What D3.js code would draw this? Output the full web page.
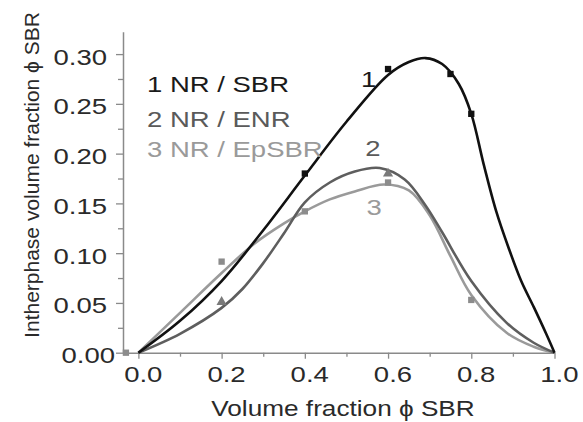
<!DOCTYPE html>
<html>
<head>
<meta charset="utf-8">
<script src="https://cdn.jsdelivr.net/npm/d3@7"></script>
<style>
  html, body { margin: 0; padding: 0; background: #fff; }
  svg { display: block; font-family: "Liberation Sans", Arial, sans-serif; }
</style>
</head>
<body>
<svg id="chart" width="583" height="422"></svg>
<script>
// ---- Data ----
// Fitted curves
const fitX1 = [0, 0.1, 0.2, 0.3, 0.4, 0.5, 0.6, 0.65, 0.69, 0.73, 0.77, 0.8, 0.83, 0.86, 0.89, 0.92, 0.95, 0.98, 1.0];
const fitY1 = [0, 0.032, 0.072, 0.123, 0.178, 0.232, 0.279, 0.292, 0.296, 0.29, 0.27, 0.24, 0.189, 0.142, 0.105, 0.072, 0.046, 0.019, 0];
const fitX2 = [0, 0.1, 0.2, 0.25, 0.3, 0.35, 0.4, 0.46, 0.52, 0.58, 0.64, 0.69, 0.73, 0.8, 0.885, 0.95, 1.0];
const fitY2 = [0, 0.019, 0.045, 0.064, 0.09, 0.12, 0.151, 0.171, 0.182, 0.1855, 0.174, 0.148, 0.121, 0.072, 0.03, 0.01, 0];
const fitX3 = [0, 0.1, 0.2, 0.28, 0.35, 0.4, 0.46, 0.52, 0.59, 0.65, 0.7, 0.75, 0.8, 0.885, 0.95, 1.0];
const fitY3 = [0, 0.04, 0.08, 0.11, 0.13, 0.142, 0.154, 0.162, 0.169, 0.163, 0.138, 0.097, 0.058, 0.02, 0.006, 0];

// Measured points
const ptsX1 = [0.4, 0.6, 0.75, 0.8];
const ptsY1 = [0.18, 0.285, 0.28, 0.24];
const ptsX2 = [0.2, 0.6];
const ptsY2 = [0.051, 0.18];
const ptsX3 = [-0.03, 0.2, 0.4, 0.6, 0.8];
const ptsY3 = [0, 0.0915, 0.142, 0.171, 0.053];

const legendLabels = ["1 NR / SBR", "2 NR / ENR", "3 NR / EpSBR"];
const curveLabels = ["1", "2", "3"];
const xTicks = [0, 0.2, 0.4, 0.6, 0.8, 1.0];
const xMinorTicks = [0.1, 0.3, 0.5, 0.7, 0.9];
const yTicks = [0, 0.05, 0.10, 0.15, 0.20, 0.25, 0.30];
const yMinorTicks = [0.025, 0.075, 0.125, 0.175, 0.225, 0.275];
const xTitle = "Volume fraction \u03d5 SBR";
const yTitle = "Intherphase volume fraction \u03d5 SBR";

// ---- Drawing ----
const svg = d3.select("#chart");
const colors = ["#111111", "#5e5e5e", "#9a9a9a"];
const axisColor = "#8a8a8a";
const FS = 22;      // font size
const SX = 1.25;    // horizontal stretch of the text in the reference

const x = d3.scaleLinear().domain([-0.037, 1.0]).range([123, 554.5]);
const y = d3.scaleLinear().domain([0, 0.3225]).range([352.7, 31.7]);

// minor ticks
svg.append("g").attr("transform", `translate(0,${y(0)})`)
  .call(d3.axisBottom(x).tickValues(xMinorTicks).tickSize(4).tickFormat(""))
  .call(g => g.select(".domain").remove())
  .call(g => g.selectAll("line").attr("stroke", axisColor).attr("stroke-width", 1.3));
svg.append("g").attr("transform", `translate(${x.range()[0]},0)`)
  .call(d3.axisLeft(y).tickValues(yMinorTicks).tickSize(5).tickFormat(""))
  .call(g => g.select(".domain").remove())
  .call(g => g.selectAll("line").attr("stroke", axisColor).attr("stroke-width", 1.3));

// x axis
const xAxis = svg.append("g").attr("transform", `translate(0,${y(0)})`)
  .call(d3.axisBottom(x).tickValues(xTicks).tickSize(6).tickPadding(8).tickSizeOuter(0)
    .tickFormat(d3.format(".1f")));
xAxis.select(".domain").attr("stroke", axisColor).attr("stroke-width", 1.5);
xAxis.selectAll(".tick line").attr("stroke", axisColor).attr("stroke-width", 1.3);
xAxis.selectAll(".tick text").attr("font-size", FS).attr("fill", "#2a2a2a")
  .attr("font-family", "Liberation Sans, Arial, sans-serif")
  .attr("x", 3.5).attr("transform", `scale(${SX},1)`);

// y axis
const yAxis = svg.append("g").attr("transform", `translate(${x.range()[0]},0)`)
  .call(d3.axisLeft(y).tickValues(yTicks).tickSize(7).tickPadding(9).tickSizeOuter(0)
    .tickFormat(d3.format(".2f")));
yAxis.select(".domain").attr("stroke", axisColor).attr("stroke-width", 1.5);
yAxis.selectAll(".tick line").attr("stroke", axisColor).attr("stroke-width", 1.3);
yAxis.selectAll(".tick text").attr("font-size", FS).attr("fill", "#2a2a2a")
  .attr("font-family", "Liberation Sans, Arial, sans-serif")
  .attr("dy", "0.45em")
  .attr("x", d => (d === 0 ? -8 : -16) / SX)
  .attr("transform", `scale(${SX},1)`);

// curves
const fits = [[fitX1, fitY1], [fitX2, fitY2], [fitX3, fitY3]];
const line = d3.line().x(d => x(d[0])).y(d => y(d[1])).curve(d3.curveCatmullRom.alpha(0.5));
[2, 1, 0].forEach(i => {
  const data = fits[i][0].map((v, k) => [v, fits[i][1][k]]);
  svg.append("path").datum(data)
    .attr("d", line)
    .attr("fill", "none")
    .attr("stroke", colors[i])
    .attr("stroke-width", 2.6)
    .attr("stroke-linejoin", "round");
});

// points
const pts = [[ptsX1, ptsY1, "square"], [ptsX2, ptsY2, "triangle"], [ptsX3, ptsY3, "square"]];
const ptColors = ["#111111", "#7a7a7a", "#8c8c8c"];
pts.forEach((p, i) => {
  const data = p[0].map((v, k) => [v, p[1][k]]);
  const sym = d3.symbol().type(p[2] === "square" ? d3.symbolSquare : d3.symbolTriangle).size(p[2] === "square" ? 40 : 45);
  svg.append("g").selectAll("path").data(data).join("path")
    .attr("transform", d => `translate(${x(d[0])},${y(d[1])})`)
    .attr("d", sym)
    .attr("fill", ptColors[i]);
});

// stretched text helper
function stext(tx, ty, t, color, anchor, sx) {
  return svg.append("text")
    .attr("transform", `translate(${tx},${ty}) scale(${sx || SX},1)`)
    .attr("text-anchor", anchor || "start")
    .attr("font-size", FS).attr("fill", color).text(t);
}

// legend
const legendY = [92, 127, 157];
const legendColors = ["#1a1a1a", "#5a5a5a", "#9a9a9a"];
legendLabels.forEach((t, i) => stext(147, legendY[i], t, legendColors[i]));

// curve labels
const clX = [0.535, 0.545, 0.548];
const clY = [87, 156, 215];
curveLabels.forEach((t, i) => stext(x(clX[i]), clY[i], t, legendColors[i]));

// axis titles
stext(343, 416, xTitle, "#2a2a2a", "middle", 1.19);
svg.append("text").attr("transform", "translate(39,175) rotate(-90)")
  .attr("text-anchor", "middle").attr("font-size", 21).attr("fill", "#2a2a2a").text(yTitle);
</script>
</body>
</html>
